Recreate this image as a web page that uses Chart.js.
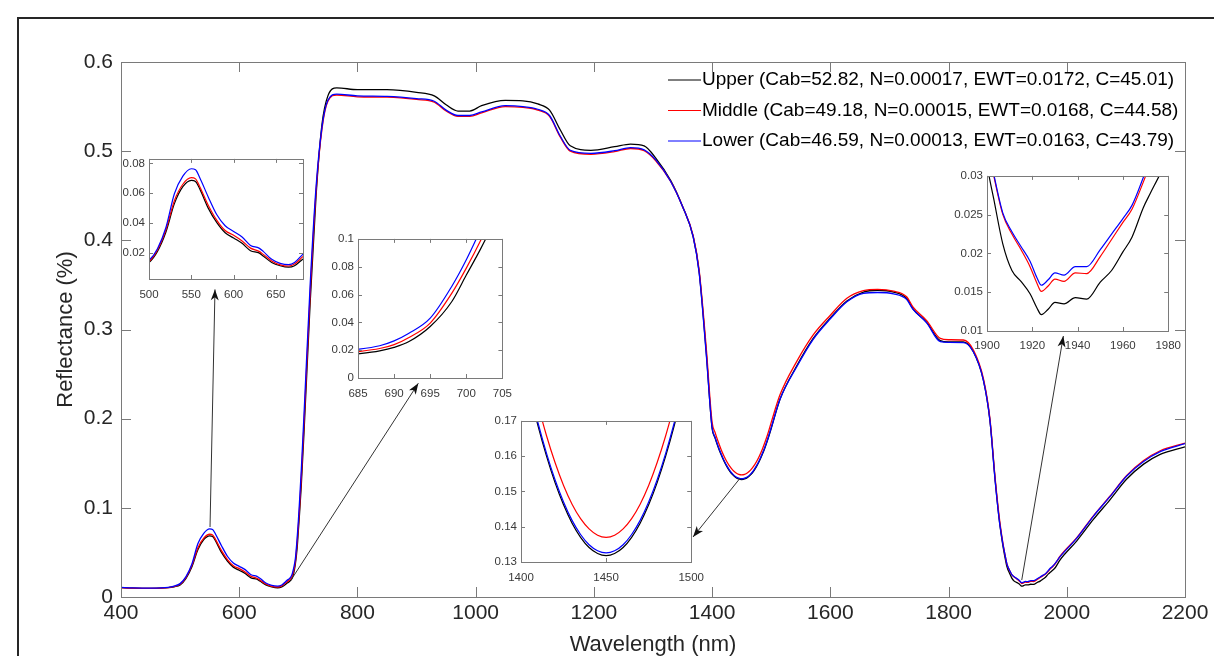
<!DOCTYPE html>
<html>
<head>
<meta charset="utf-8">
<script src="https://cdn.jsdelivr.net/npm/chart.js@4.4.1/dist/chart.umd.min.js"></script>
<style>
  body { margin: 0; background: #fff; width: 1214px; height: 656px; overflow: hidden; position: relative; }
  canvas { position: absolute; }
  #frame { position: absolute; left: 17px; top: 17px; width: 1300px; height: 700px; border: 2px solid #262626; box-sizing: border-box; }
</style>
</head>
<body>
<div id="frame"></div>
<canvas id="main" width="1214" height="656" style="left:0;top:0"></canvas>
<canvas id="in1" width="200" height="160" style="left:110px;top:148px"></canvas>
<canvas id="in2" width="203" height="172" style="left:318px;top:228px"></canvas>
<canvas id="in3" width="235" height="175" style="left:478px;top:410px"></canvas>
<canvas id="in4" width="244" height="185" style="left:945px;top:165px"></canvas>
<script>
// wavelength (nm) and reflectance of the three canopy layers
const wavelength = [400, 420, 450, 480, 490, 500, 510, 520, 530, 540, 550, 555, 560, 570, 580, 590, 600, 610, 620, 630,
  635, 645, 655, 665, 672, 682, 685, 688, 690, 692, 695, 698, 700, 702, 705, 710, 720, 730, 740, 750,
  765, 800, 850, 900, 930, 950, 970, 990, 1010, 1050, 1080, 1105, 1125, 1143, 1160, 1195, 1235, 1262, 1285, 1305,
  1330, 1350, 1368, 1378, 1390, 1400, 1405, 1410, 1415, 1420, 1425, 1430, 1435, 1440, 1445, 1450, 1455, 1460, 1465, 1470,
  1475, 1480, 1485, 1490, 1495, 1500, 1515, 1543, 1571, 1600, 1628, 1656, 1680, 1707, 1729, 1740, 1763, 1786, 1800, 1825,
  1842, 1859, 1870, 1879, 1887, 1898, 1900, 1903, 1907, 1911, 1915, 1919, 1922, 1924, 1927, 1930, 1934, 1939, 1944, 1950,
  1955, 1960, 1964, 1969, 1972, 1976, 1980, 1989, 2017, 2045, 2073, 2101, 2130, 2158, 2200];

const upper = [0.0105, 0.0100, 0.0097, 0.0104, 0.0115, 0.0136, 0.0210, 0.0340, 0.0530, 0.0644, 0.0686, 0.0678, 0.0629, 0.0500, 0.0404, 0.0335, 0.0300, 0.0264, 0.0215, 0.0200,
  0.0179, 0.0136, 0.0114, 0.0104, 0.0114, 0.0160, 0.0174, 0.0195, 0.0220, 0.0260, 0.0370, 0.0550, 0.0740, 0.0930, 0.1250, 0.1900, 0.3300, 0.4500, 0.5300, 0.5620,
  0.5710, 0.5690, 0.5690, 0.5660, 0.5620, 0.5520, 0.5450, 0.5450, 0.5510, 0.5570, 0.5565, 0.5530, 0.5460, 0.5240, 0.5060, 0.5010, 0.5050, 0.5080, 0.5060, 0.4920,
  0.4670, 0.4380, 0.4040, 0.3650, 0.2750, 0.1890, 0.1784, 0.1686, 0.1600, 0.1525, 0.1462, 0.1410, 0.1370, 0.1341, 0.1324, 0.1318, 0.1324, 0.1341, 0.1370, 0.1410,
  0.1462, 0.1525, 0.1600, 0.1686, 0.1784, 0.1890, 0.2220, 0.2590, 0.2900, 0.3130, 0.3320, 0.3420, 0.3440, 0.3420, 0.3350, 0.3230, 0.3080, 0.2875, 0.2860, 0.2860,
  0.2750, 0.2430, 0.1980, 0.1300, 0.0800, 0.0360, 0.0315, 0.0270, 0.0212, 0.0178, 0.0164, 0.0148, 0.0130, 0.0121, 0.0128, 0.0137, 0.0135, 0.0143, 0.0141, 0.0163,
  0.0178, 0.0202, 0.0221, 0.0259, 0.0277, 0.0300, 0.0325, 0.0420, 0.0630, 0.0870, 0.1090, 0.1320, 0.1490, 0.1600, 0.1685];

const middle = [0.0105, 0.0100, 0.0097, 0.0105, 0.0118, 0.0142, 0.0220, 0.0355, 0.0550, 0.0660, 0.0704, 0.0696, 0.0644, 0.0520, 0.0420, 0.0350, 0.0318, 0.0280, 0.0232, 0.0210,
  0.0190, 0.0146, 0.0120, 0.0112, 0.0125, 0.0176, 0.0190, 0.0212, 0.0240, 0.0290, 0.0395, 0.0610, 0.0790, 0.0990, 0.1330, 0.2000, 0.3400, 0.4550, 0.5250, 0.5560,
  0.5630, 0.5610, 0.5605, 0.5580, 0.5550, 0.5450, 0.5390, 0.5390, 0.5430, 0.5500, 0.5490, 0.5460, 0.5390, 0.5160, 0.5000, 0.4965, 0.4995, 0.5030, 0.5005, 0.4890,
  0.4660, 0.4380, 0.4050, 0.3670, 0.2800, 0.1958, 0.1846, 0.1746, 0.1658, 0.1582, 0.1517, 0.1464, 0.1423, 0.1394, 0.1376, 0.1370, 0.1376, 0.1394, 0.1423, 0.1464,
  0.1517, 0.1582, 0.1658, 0.1746, 0.1846, 0.1958, 0.2270, 0.2640, 0.2940, 0.3160, 0.3350, 0.3435, 0.3450, 0.3430, 0.3368, 0.3250, 0.3100, 0.2900, 0.2885, 0.2882,
  0.2770, 0.2450, 0.2000, 0.1320, 0.0830, 0.0390, 0.0345, 0.0300, 0.0250, 0.0225, 0.0205, 0.0183, 0.0162, 0.0151, 0.0158, 0.0167, 0.0164, 0.0175, 0.0174, 0.0196,
  0.0218, 0.0240, 0.0257, 0.0292, 0.0315, 0.0340, 0.0370, 0.0460, 0.0665, 0.0910, 0.1130, 0.1360, 0.1530, 0.1640, 0.1725];

const lower = [0.0108, 0.0102, 0.0099, 0.0107, 0.0122, 0.0150, 0.0228, 0.0370, 0.0596, 0.0714, 0.0764, 0.0757, 0.0704, 0.0575, 0.0457, 0.0382, 0.0344, 0.0307, 0.0250, 0.0232,
  0.0210, 0.0157, 0.0130, 0.0121, 0.0135, 0.0192, 0.0206, 0.0232, 0.0267, 0.0320, 0.0430, 0.0660, 0.0850, 0.1070, 0.1420, 0.2100, 0.3500, 0.4600, 0.5270, 0.5570,
  0.5640, 0.5620, 0.5615, 0.5590, 0.5560, 0.5460, 0.5400, 0.5400, 0.5440, 0.5510, 0.5500, 0.5470, 0.5400, 0.5170, 0.5010, 0.4975, 0.5005, 0.5040, 0.5015, 0.4900,
  0.4660, 0.4380, 0.4040, 0.3640, 0.2730, 0.1900, 0.1792, 0.1694, 0.1608, 0.1533, 0.1470, 0.1418, 0.1378, 0.1349, 0.1332, 0.1326, 0.1332, 0.1349, 0.1378, 0.1418,
  0.1470, 0.1533, 0.1608, 0.1694, 0.1792, 0.1900, 0.2220, 0.2580, 0.2890, 0.3120, 0.3310, 0.3405, 0.3415, 0.3400, 0.3338, 0.3225, 0.3075, 0.2863, 0.2855, 0.2853,
  0.2750, 0.2430, 0.1980, 0.1290, 0.0800, 0.0390, 0.0345, 0.0302, 0.0252, 0.0228, 0.0209, 0.0190, 0.0169, 0.0159, 0.0166, 0.0175, 0.0172, 0.0183, 0.0183, 0.0205,
  0.0225, 0.0245, 0.0262, 0.0298, 0.0322, 0.0345, 0.0375, 0.0455, 0.0660, 0.0905, 0.1125, 0.1355, 0.1520, 0.1630, 0.1720];

const seriesNames = [
  'Upper (Cab=52.82, N=0.00017, EWT=0.0172, C=45.01)',
  'Middle (Cab=49.18, N=0.00015, EWT=0.0168, C=44.58)',
  'Lower (Cab=46.59, N=0.00013, EWT=0.0163, C=43.79)'
];
const seriesValues = [upper, middle, lower];
const seriesColors = ['#000000', '#ff0000', '#0000ff'];

const xTicksMain = [400, 2200, 200];
const yTicksMain = [0, 0.6, 0.1];

// zoom windows: [xmin, xmax, xstep, ymin, ymax, ystep]
const zoomWindows = [
  [500, 682, 50, 0.0025, 0.083, 0.02],
  [685, 705, 5, 0, 0.1, 0.02],
  [1400, 1500, 50, 0.13, 0.17, 0.01],
  [1900, 1980, 20, 0.01, 0.03, 0.005]
];

// arrows from the curve to each zoom window, [wavelength, reflectance]
const arrows = [
  [[550.6, 0.0785], [559, 0.345]],
  [[687.6, 0.019], [903, 0.2397]],
  [[1447, 0.133], [1367.7, 0.0673]],
  [[1923.8, 0.019], [1994.2, 0.2927]]
];

Chart.defaults.font.family = '"Liberation Sans", Arial, sans-serif';

const fmt = v => String(+v.toFixed(4));

function makeDatasets(width) {
  return seriesValues.map((vals, i) => ({
    label: seriesNames[i],
    data: wavelength.map((w, k) => ({ x: w, y: vals[k] })),
    borderColor: seriesColors[i],
    borderWidth: width,
    pointRadius: 0,
    cubicInterpolationMode: 'monotone',
    order: 2 - i
  }));
}

// matlab style box with inward ticks
const boxPlugin = {
  id: 'box',
  beforeDatasetsDraw(chart, args, opts) {
    if (!opts.fill) return;
    const a = chart.chartArea;
    chart.ctx.save();
    chart.ctx.fillStyle = '#fff';
    chart.ctx.fillRect(a.left, a.top, a.width, a.height);
    chart.ctx.restore();
  },
  afterDraw(chart, args, opts) {
    const { ctx, chartArea: a, scales: { x, y } } = chart;
    const len = opts.tick;
    ctx.save();
    ctx.strokeStyle = opts.color;
    ctx.lineWidth = 1;
    ctx.beginPath();
    x.ticks.forEach(t => {
      const px = Math.round(x.getPixelForValue(t.value)) + 0.5;
      ctx.moveTo(px, a.bottom); ctx.lineTo(px, a.bottom - len);
      ctx.moveTo(px, a.top); ctx.lineTo(px, a.top + len);
    });
    y.ticks.forEach(t => {
      const py = Math.round(y.getPixelForValue(t.value)) + 0.5;
      ctx.moveTo(a.left, py); ctx.lineTo(a.left + len, py);
      ctx.moveTo(a.right, py); ctx.lineTo(a.right - len, py);
    });
    ctx.stroke();
    ctx.strokeRect(Math.round(a.left) + 0.5, Math.round(a.top) + 0.5, Math.round(a.width), Math.round(a.height));
    ctx.restore();
  }
};

const legendPlugin = {
  id: 'insideLegend',
  afterDraw(chart) {
    const ctx = chart.ctx;
    ctx.save();
    ctx.font = '19px "Liberation Sans", Arial, sans-serif';
    ctx.textBaseline = 'middle';
    ctx.fillStyle = '#000';
    chart.data.datasets.forEach((ds, i) => {
      const yy = 80 + i * 30.5;
      ctx.strokeStyle = ds.borderColor;
      ctx.lineWidth = 1;
      ctx.beginPath();
      ctx.moveTo(668, yy); ctx.lineTo(701, yy);
      ctx.stroke();
      ctx.fillText(ds.label, 702, yy);
    });
    ctx.restore();
  }
};

const arrowPlugin = {
  id: 'arrows',
  afterDatasetsDraw(chart) {
    const { ctx, scales: { x, y } } = chart;
    ctx.save();
    ctx.strokeStyle = '#333';
    ctx.fillStyle = '#111';
    ctx.lineWidth = 1;
    arrows.forEach(([from, to]) => {
      const x0 = x.getPixelForValue(from[0]), y0 = y.getPixelForValue(from[1]);
      const x1 = x.getPixelForValue(to[0]), y1 = y.getPixelForValue(to[1]);
      const ang = Math.atan2(y1 - y0, x1 - x0);
      ctx.beginPath();
      ctx.moveTo(x0, y0); ctx.lineTo(x1, y1);
      ctx.stroke();
      ctx.beginPath();
      ctx.moveTo(x1, y1);
      ctx.lineTo(x1 - 11 * Math.cos(ang) + 4 * Math.sin(ang), y1 - 11 * Math.sin(ang) - 4 * Math.cos(ang));
      ctx.lineTo(x1 - 8 * Math.cos(ang), y1 - 8 * Math.sin(ang));
      ctx.lineTo(x1 - 11 * Math.cos(ang) - 4 * Math.sin(ang), y1 - 11 * Math.sin(ang) + 4 * Math.cos(ang));
      ctx.closePath();
      ctx.fill();
    });
    ctx.restore();
  }
};

new Chart(document.getElementById('main'), {
  type: 'line',
  data: { datasets: makeDatasets(1.3) },
  plugins: [boxPlugin, arrowPlugin, legendPlugin],
  options: {
    responsive: false,
    animation: false,
    layout: { padding: { left: 0, top: 62, right: 29, bottom: 0 } },
    plugins: {
      legend: { display: false },
      tooltip: { enabled: false },
      box: { tick: 10, color: '#7a7a7a', fill: false }
    },
    scales: {
      x: {
        type: 'linear', min: xTicksMain[0], max: xTicksMain[1],
        afterFit: s => { s.height = 59; },
        grid: { display: false, drawTicks: false },
        border: { display: false },
        ticks: { stepSize: xTicksMain[2], padding: 4, maxRotation: 0, autoSkip: false, color: '#262626', font: { size: 21 }, callback: v => String(v) },
        title: { display: true, text: 'Wavelength (nm)', color: '#262626', font: { size: 22, lineHeight: 1 }, padding: { top: 0, bottom: 0 } }
      },
      y: {
        min: yTicksMain[0], max: yTicksMain[1],
        afterFit: s => { s.width = 121; },
        grid: { display: false, drawTicks: false },
        border: { display: false },
        ticks: { stepSize: yTicksMain[2], padding: 8, color: '#262626', font: { size: 21 }, callback: fmt },
        title: { display: true, text: 'Reflectance (%)', color: '#262626', font: { size: 22, lineHeight: 1 }, padding: { top: 55, bottom: 0 } }
      }
    }
  }
});

// canvas layout for each zoom window: [yAxisWidth, padTop, padRight, xAxisHeight, xLabelPad]
const insetLayout = [
  [39, 6, 7, 29, 9],
  [40, 7, 16, 22, 9],
  [43, 7, 19, 23, 9],
  [42, 7, 17, 19, 8]
];

zoomWindows.forEach((z, i) => {
  const [yw, pt, pr, xh, xp] = insetLayout[i];
  new Chart(document.getElementById('in' + (i + 1)), {
    type: 'line',
    data: { datasets: makeDatasets(1.2) },
    plugins: [boxPlugin],
    options: {
      responsive: false,
      animation: false,
      layout: { padding: { left: 0, top: pt, right: pr, bottom: 0 } },
      plugins: {
        legend: { display: false },
        tooltip: { enabled: false },
        box: { tick: 4, color: '#7a7a7a', fill: true }
      },
      scales: {
        x: {
          type: 'linear', min: z[0], max: z[1],
          afterFit: s => { s.height = xh; },
          grid: { display: false, drawTicks: false },
          border: { display: false },
          ticks: { stepSize: z[2], includeBounds: false, padding: xp, maxRotation: 0, autoSkip: false, color: '#3a3a3a', font: { size: 11.5 }, callback: v => String(v) }
        },
        y: {
          min: z[3], max: z[4],
          afterFit: s => { s.width = yw; },
          grid: { display: false, drawTicks: false },
          border: { display: false },
          ticks: { stepSize: z[5], includeBounds: false, padding: 4, autoSkip: false, color: '#3a3a3a', font: { size: 11.5 }, callback: fmt }
        }
      }
    }
  });
});
</script>
</body>
</html>
